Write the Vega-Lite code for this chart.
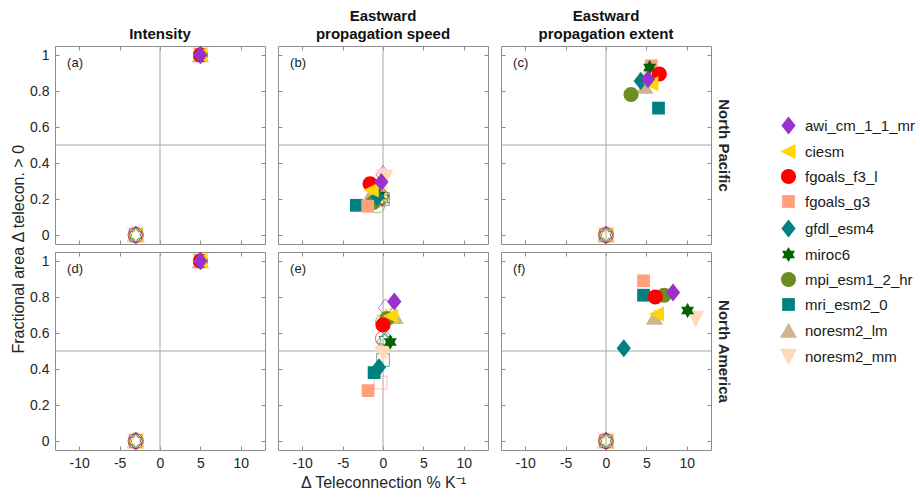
{
  "$schema": "https://vega.github.io/schema/vega-lite/v6.json",
  "padding": {"left": 11, "top": 8, "right": 5, "bottom": 5},
  "data": {"values": [
    {"panel":"a","kind":"h","model":"noresm2_mm","x":-3,"y":0},
    {"panel":"a","kind":"h","model":"noresm2_lm","x":-3,"y":0},
    {"panel":"a","kind":"h","model":"mri_esm2_0","x":-3,"y":0},
    {"panel":"a","kind":"h","model":"mpi_esm1_2_hr","x":-3,"y":0},
    {"panel":"a","kind":"h","model":"miroc6","x":-3,"y":0},
    {"panel":"a","kind":"h","model":"gfdl_esm4","x":-3,"y":0},
    {"panel":"a","kind":"h","model":"fgoals_g3","x":-3,"y":0},
    {"panel":"a","kind":"h","model":"fgoals_f3_l","x":-3,"y":0},
    {"panel":"a","kind":"h","model":"ciesm","x":-3,"y":0},
    {"panel":"a","kind":"h","model":"awi_cm_1_1_mr","x":-3,"y":0},
    {"panel":"a","kind":"f","model":"noresm2_mm","x":5,"y":1},
    {"panel":"a","kind":"f","model":"noresm2_lm","x":5,"y":1},
    {"panel":"a","kind":"f","model":"mri_esm2_0","x":5,"y":1},
    {"panel":"a","kind":"f","model":"mpi_esm1_2_hr","x":5,"y":1},
    {"panel":"a","kind":"f","model":"miroc6","x":5,"y":1},
    {"panel":"a","kind":"f","model":"gfdl_esm4","x":5,"y":1},
    {"panel":"a","kind":"f","model":"fgoals_g3","x":5,"y":1},
    {"panel":"a","kind":"f","model":"fgoals_f3_l","x":5,"y":1},
    {"panel":"a","kind":"f","model":"ciesm","x":5,"y":1},
    {"panel":"a","kind":"f","model":"awi_cm_1_1_mr","x":5,"y":1},

    {"panel":"b","kind":"h","model":"noresm2_mm","x":0.1,"y":0.31},
    {"panel":"b","kind":"h","model":"noresm2_lm","x":-0.2,"y":0.24},
    {"panel":"b","kind":"h","model":"mri_esm2_0","x":0.0,"y":0.2},
    {"panel":"b","kind":"h","model":"mpi_esm1_2_hr","x":-0.7,"y":0.165},
    {"panel":"b","kind":"h","model":"miroc6","x":-0.1,"y":0.2},
    {"panel":"b","kind":"h","model":"gfdl_esm4","x":-0.1,"y":0.22},
    {"panel":"b","kind":"h","model":"fgoals_g3","x":-0.5,"y":0.19},
    {"panel":"b","kind":"h","model":"fgoals_f3_l","x":-0.3,"y":0.21},
    {"panel":"b","kind":"h","model":"ciesm","x":-0.4,"y":0.23},
    {"panel":"b","kind":"h","model":"awi_cm_1_1_mr","x":0.0,"y":0.335},
    {"panel":"b","kind":"f","model":"noresm2_mm","x":0.2,"y":0.32},
    {"panel":"b","kind":"f","model":"noresm2_lm","x":-1.7,"y":0.21},
    {"panel":"b","kind":"f","model":"mri_esm2_0","x":-3.3,"y":0.165},
    {"panel":"b","kind":"f","model":"mpi_esm1_2_hr","x":-1.2,"y":0.18},
    {"panel":"b","kind":"f","model":"miroc6","x":-0.5,"y":0.22},
    {"panel":"b","kind":"f","model":"gfdl_esm4","x":-0.7,"y":0.21},
    {"panel":"b","kind":"f","model":"fgoals_g3","x":-1.9,"y":0.16},
    {"panel":"b","kind":"f","model":"fgoals_f3_l","x":-1.6,"y":0.285},
    {"panel":"b","kind":"f","model":"ciesm","x":-1.4,"y":0.25},
    {"panel":"b","kind":"f","model":"awi_cm_1_1_mr","x":-0.2,"y":0.295},

    {"panel":"c","kind":"h","model":"noresm2_mm","x":0,"y":0},
    {"panel":"c","kind":"h","model":"noresm2_lm","x":0,"y":0},
    {"panel":"c","kind":"h","model":"mri_esm2_0","x":0,"y":0},
    {"panel":"c","kind":"h","model":"mpi_esm1_2_hr","x":0,"y":0},
    {"panel":"c","kind":"h","model":"miroc6","x":0,"y":0},
    {"panel":"c","kind":"h","model":"gfdl_esm4","x":0,"y":0},
    {"panel":"c","kind":"h","model":"fgoals_g3","x":0,"y":0},
    {"panel":"c","kind":"h","model":"fgoals_f3_l","x":0,"y":0},
    {"panel":"c","kind":"h","model":"ciesm","x":0,"y":0},
    {"panel":"c","kind":"h","model":"awi_cm_1_1_mr","x":0,"y":0},
    {"panel":"c","kind":"f","model":"noresm2_mm","x":5.0,"y":0.86},
    {"panel":"c","kind":"f","model":"noresm2_lm","x":4.8,"y":0.825},
    {"panel":"c","kind":"f","model":"mri_esm2_0","x":6.5,"y":0.705},
    {"panel":"c","kind":"f","model":"mpi_esm1_2_hr","x":3.1,"y":0.78},
    {"panel":"c","kind":"f","model":"fgoals_g3","x":5.6,"y":0.94},
    {"panel":"c","kind":"f","model":"miroc6","x":5.4,"y":0.93},
    {"panel":"c","kind":"f","model":"gfdl_esm4","x":4.3,"y":0.855},
    {"panel":"c","kind":"f","model":"fgoals_f3_l","x":6.6,"y":0.895},
    {"panel":"c","kind":"f","model":"ciesm","x":5.6,"y":0.84},
    {"panel":"c","kind":"f","model":"awi_cm_1_1_mr","x":5.2,"y":0.865},

    {"panel":"d","kind":"h","model":"noresm2_mm","x":-3,"y":0},
    {"panel":"d","kind":"h","model":"noresm2_lm","x":-3,"y":0},
    {"panel":"d","kind":"h","model":"mri_esm2_0","x":-3,"y":0},
    {"panel":"d","kind":"h","model":"mpi_esm1_2_hr","x":-3,"y":0},
    {"panel":"d","kind":"h","model":"miroc6","x":-3,"y":0},
    {"panel":"d","kind":"h","model":"gfdl_esm4","x":-3,"y":0},
    {"panel":"d","kind":"h","model":"fgoals_g3","x":-3,"y":0},
    {"panel":"d","kind":"h","model":"fgoals_f3_l","x":-3,"y":0},
    {"panel":"d","kind":"h","model":"ciesm","x":-3,"y":0},
    {"panel":"d","kind":"h","model":"awi_cm_1_1_mr","x":-3,"y":0},
    {"panel":"d","kind":"f","model":"noresm2_mm","x":5,"y":1},
    {"panel":"d","kind":"f","model":"noresm2_lm","x":5,"y":1},
    {"panel":"d","kind":"f","model":"mri_esm2_0","x":5,"y":1},
    {"panel":"d","kind":"f","model":"mpi_esm1_2_hr","x":5,"y":1},
    {"panel":"d","kind":"f","model":"miroc6","x":5,"y":1},
    {"panel":"d","kind":"f","model":"gfdl_esm4","x":5,"y":1},
    {"panel":"d","kind":"f","model":"fgoals_g3","x":5,"y":1},
    {"panel":"d","kind":"f","model":"fgoals_f3_l","x":5,"y":1},
    {"panel":"d","kind":"f","model":"ciesm","x":5,"y":1},
    {"panel":"d","kind":"f","model":"awi_cm_1_1_mr","x":5,"y":1},

    {"panel":"e","kind":"h","model":"noresm2_mm","x":0.0,"y":0.47},
    {"panel":"e","kind":"h","model":"noresm2_lm","x":0.4,"y":0.69},
    {"panel":"e","kind":"h","model":"mri_esm2_0","x":0.0,"y":0.45},
    {"panel":"e","kind":"h","model":"mpi_esm1_2_hr","x":0.0,"y":0.66},
    {"panel":"e","kind":"h","model":"miroc6","x":0.3,"y":0.56},
    {"panel":"e","kind":"h","model":"gfdl_esm4","x":0.1,"y":0.55},
    {"panel":"e","kind":"h","model":"fgoals_g3","x":-0.3,"y":0.325},
    {"panel":"e","kind":"h","model":"fgoals_f3_l","x":0.0,"y":0.57},
    {"panel":"e","kind":"h","model":"ciesm","x":0.2,"y":0.7},
    {"panel":"e","kind":"h","model":"awi_cm_1_1_mr","x":0.3,"y":0.74},
    {"panel":"e","kind":"f","model":"noresm2_mm","x":0.0,"y":0.487},
    {"panel":"e","kind":"f","model":"noresm2_lm","x":1.5,"y":0.69},
    {"panel":"e","kind":"f","model":"mri_esm2_0","x":-1.1,"y":0.38},
    {"panel":"e","kind":"f","model":"mpi_esm1_2_hr","x":0.5,"y":0.68},
    {"panel":"e","kind":"f","model":"miroc6","x":0.9,"y":0.55},
    {"panel":"e","kind":"f","model":"gfdl_esm4","x":-0.5,"y":0.41},
    {"panel":"e","kind":"f","model":"fgoals_g3","x":-1.85,"y":0.28},
    {"panel":"e","kind":"f","model":"fgoals_f3_l","x":0.0,"y":0.645},
    {"panel":"e","kind":"f","model":"ciesm","x":1.0,"y":0.695},
    {"panel":"e","kind":"f","model":"awi_cm_1_1_mr","x":1.4,"y":0.775},

    {"panel":"f","kind":"h","model":"noresm2_mm","x":0,"y":0},
    {"panel":"f","kind":"h","model":"noresm2_lm","x":0,"y":0},
    {"panel":"f","kind":"h","model":"mri_esm2_0","x":0,"y":0},
    {"panel":"f","kind":"h","model":"mpi_esm1_2_hr","x":0,"y":0},
    {"panel":"f","kind":"h","model":"miroc6","x":0,"y":0},
    {"panel":"f","kind":"h","model":"gfdl_esm4","x":0,"y":0},
    {"panel":"f","kind":"h","model":"fgoals_g3","x":0,"y":0},
    {"panel":"f","kind":"h","model":"fgoals_f3_l","x":0,"y":0},
    {"panel":"f","kind":"h","model":"ciesm","x":0,"y":0},
    {"panel":"f","kind":"h","model":"awi_cm_1_1_mr","x":0,"y":0},
    {"panel":"f","kind":"f","model":"noresm2_mm","x":11.1,"y":0.68},
    {"panel":"f","kind":"f","model":"noresm2_lm","x":6.0,"y":0.685},
    {"panel":"f","kind":"f","model":"mri_esm2_0","x":4.65,"y":0.81},
    {"panel":"f","kind":"f","model":"mpi_esm1_2_hr","x":7.2,"y":0.81},
    {"panel":"f","kind":"f","model":"miroc6","x":10.1,"y":0.725},
    {"panel":"f","kind":"f","model":"gfdl_esm4","x":2.2,"y":0.515},
    {"panel":"f","kind":"f","model":"fgoals_g3","x":4.65,"y":0.89},
    {"panel":"f","kind":"f","model":"fgoals_f3_l","x":6.1,"y":0.8},
    {"panel":"f","kind":"f","model":"ciesm","x":6.3,"y":0.705},
    {"panel":"f","kind":"f","model":"awi_cm_1_1_mr","x":8.3,"y":0.825}
  ]},
  "title": {"text": "Fractional area Δ telecon. > 0", "orient": "left", "anchor": "middle", "fontSize": 16, "fontWeight": "normal", "color": "#262626", "offset": 2},
  "spacing": 4,
  "vconcat": [
    {"spacing": 11, "hconcat": [
      {"width": 210, "height": 198, "title": "Intensity",
       "resolve": {"axis": {"x": "independent", "y": "independent"}},
       "layer": [
        {"data": {"values": [{}]}, "mark": {"type": "rule", "color": "#a6a6a6", "strokeWidth": 1},
         "encoding": {"x": {"datum": 0, "type": "quantitative", "scale": {"domain": [-13, 13], "nice": false, "zero": false}, "axis": {"orient": "top", "labels": false, "values": [-10,-5,0,5,10], "title": null}}}},
        {"data": {"values": [{}]}, "mark": {"type": "rule", "color": "#a6a6a6", "strokeWidth": 1},
         "encoding": {"y": {"datum": 0.5, "type": "quantitative", "scale": {"domain": [-0.05, 1.05], "nice": false, "zero": false}, "axis": {"orient": "right", "labels": false, "values": [0,0.2,0.4,0.6,0.8,1], "title": null}}}},
        {"transform": [{"filter": "datum.panel == 'a' && datum.kind == 'f'"}],
         "mark": {"type": "point", "filled": true, "size": 225, "opacity": 1},
         "encoding": {"x": {"field": "x", "type": "quantitative", "axis": {"orient": "bottom", "labels": false, "values": [-10,-5,0,5,10], "title": null}}, "y": {"field": "y", "type": "quantitative", "axis": {"orient": "left", "values": [0,0.2,0.4,0.6,0.8,1], "format": ".1~f", "title": null}}, "color": {"field": "model", "type": "nominal", "title": null}, "shape": {"field": "model", "type": "nominal", "title": null}}},
        {"transform": [{"filter": "datum.panel == 'a' && datum.kind == 'h'"}],
         "mark": {"type": "point", "filled": false, "size": 225, "strokeWidth": 0.8, "opacity": 0.8},
         "encoding": {"x": {"field": "x", "type": "quantitative", "axis": null}, "y": {"field": "y", "type": "quantitative", "axis": null}, "color": {"field": "model", "type": "nominal", "title": null}, "shape": {"field": "model", "type": "nominal", "title": null}}},
        {"data": {"values": [{}]}, "mark": {"type": "text", "text": "(a)", "align": "left", "baseline": "middle", "fontSize": 13, "color": "#1a1a1a"},
         "encoding": {"x": {"datum": -11.5, "type": "quantitative", "axis": null}, "y": {"datum": 0.955, "type": "quantitative", "axis": null}}}
       ]},
      {"width": 210, "height": 198, "title": {"text": ["Eastward", "propagation speed"]},
       "resolve": {"axis": {"x": "independent", "y": "independent"}},
       "layer": [
        {"data": {"values": [{}]}, "mark": {"type": "rule", "color": "#a6a6a6", "strokeWidth": 1},
         "encoding": {"x": {"datum": 0, "type": "quantitative", "scale": {"domain": [-13, 13], "nice": false, "zero": false}, "axis": {"orient": "top", "labels": false, "values": [-10,-5,0,5,10], "title": null}}}},
        {"data": {"values": [{}]}, "mark": {"type": "rule", "color": "#a6a6a6", "strokeWidth": 1},
         "encoding": {"y": {"datum": 0.5, "type": "quantitative", "scale": {"domain": [-0.05, 1.05], "nice": false, "zero": false}, "axis": {"orient": "right", "labels": false, "values": [0,0.2,0.4,0.6,0.8,1], "title": null}}}},
        {"transform": [{"filter": "datum.panel == 'b' && datum.kind == 'h'"}],
         "mark": {"type": "point", "filled": false, "size": 225, "strokeWidth": 0.8, "opacity": 0.8},
         "encoding": {"x": {"field": "x", "type": "quantitative", "axis": null}, "y": {"field": "y", "type": "quantitative", "axis": null}, "color": {"field": "model", "type": "nominal", "title": null}, "shape": {"field": "model", "type": "nominal", "title": null}}},
        {"transform": [{"filter": "datum.panel == 'b' && datum.kind == 'f'"}],
         "mark": {"type": "point", "filled": true, "size": 225, "opacity": 1},
         "encoding": {"x": {"field": "x", "type": "quantitative", "axis": {"orient": "bottom", "labels": false, "values": [-10,-5,0,5,10], "title": null}}, "y": {"field": "y", "type": "quantitative", "axis": {"orient": "left", "labels": false, "values": [0,0.2,0.4,0.6,0.8,1], "title": null}}, "color": {"field": "model", "type": "nominal", "title": null}, "shape": {"field": "model", "type": "nominal", "title": null}}},
        {"data": {"values": [{}]}, "mark": {"type": "text", "text": "(b)", "align": "left", "baseline": "middle", "fontSize": 13, "color": "#1a1a1a"},
         "encoding": {"x": {"datum": -11.5, "type": "quantitative", "axis": null}, "y": {"datum": 0.955, "type": "quantitative", "axis": null}}}
       ]},
      {"width": 210, "height": 198, "title": {"text": ["Eastward", "propagation extent"]},
       "resolve": {"axis": {"x": "independent", "y": "independent"}},
       "layer": [
        {"data": {"values": [{}]}, "mark": {"type": "rule", "color": "#a6a6a6", "strokeWidth": 1},
         "encoding": {"x": {"datum": 0, "type": "quantitative", "scale": {"domain": [-13, 13], "nice": false, "zero": false}, "axis": {"orient": "top", "labels": false, "values": [-10,-5,0,5,10], "title": null}}}},
        {"data": {"values": [{}]}, "mark": {"type": "rule", "color": "#a6a6a6", "strokeWidth": 1},
         "encoding": {"y": {"datum": 0.5, "type": "quantitative", "scale": {"domain": [-0.05, 1.05], "nice": false, "zero": false}, "axis": {"orient": "right", "labels": false, "values": [0,0.2,0.4,0.6,0.8,1], "title": "North Pacific", "titleFontWeight": "bold", "titleFontSize": 15, "titleColor": "#262626", "titleAngle": 90, "titlePadding": 4}}}},
        {"transform": [{"filter": "datum.panel == 'c' && datum.kind == 'h'"}],
         "mark": {"type": "point", "filled": false, "size": 225, "strokeWidth": 0.8, "opacity": 0.8},
         "encoding": {"x": {"field": "x", "type": "quantitative", "axis": null}, "y": {"field": "y", "type": "quantitative", "axis": null}, "color": {"field": "model", "type": "nominal", "title": null}, "shape": {"field": "model", "type": "nominal", "title": null}}},
        {"transform": [{"filter": "datum.panel == 'c' && datum.kind == 'f'"}],
         "mark": {"type": "point", "filled": true, "size": 225, "opacity": 1},
         "encoding": {"x": {"field": "x", "type": "quantitative", "axis": {"orient": "bottom", "labels": false, "values": [-10,-5,0,5,10], "title": null}}, "y": {"field": "y", "type": "quantitative", "axis": {"orient": "left", "labels": false, "values": [0,0.2,0.4,0.6,0.8,1], "title": null}}, "color": {"field": "model", "type": "nominal", "title": null}, "shape": {"field": "model", "type": "nominal", "title": null}}},
        {"data": {"values": [{}]}, "mark": {"type": "text", "text": "(c)", "align": "left", "baseline": "middle", "fontSize": 13, "color": "#1a1a1a"},
         "encoding": {"x": {"datum": -11.5, "type": "quantitative", "axis": null}, "y": {"datum": 0.955, "type": "quantitative", "axis": null}}}
       ]}
    ]},
    {"spacing": 11, "hconcat": [
      {"width": 210, "height": 198,
       "resolve": {"axis": {"x": "independent", "y": "independent"}},
       "layer": [
        {"data": {"values": [{}]}, "mark": {"type": "rule", "color": "#a6a6a6", "strokeWidth": 1},
         "encoding": {"x": {"datum": 0, "type": "quantitative", "scale": {"domain": [-13, 13], "nice": false, "zero": false}, "axis": {"orient": "top", "labels": false, "values": [-10,-5,0,5,10], "title": null}}}},
        {"data": {"values": [{}]}, "mark": {"type": "rule", "color": "#a6a6a6", "strokeWidth": 1},
         "encoding": {"y": {"datum": 0.5, "type": "quantitative", "scale": {"domain": [-0.05, 1.05], "nice": false, "zero": false}, "axis": {"orient": "right", "labels": false, "values": [0,0.2,0.4,0.6,0.8,1], "title": null}}}},
        {"transform": [{"filter": "datum.panel == 'd' && datum.kind == 'h'"}],
         "mark": {"type": "point", "filled": false, "size": 225, "strokeWidth": 0.8, "opacity": 0.8},
         "encoding": {"x": {"field": "x", "type": "quantitative", "axis": null}, "y": {"field": "y", "type": "quantitative", "axis": null}, "color": {"field": "model", "type": "nominal", "title": null}, "shape": {"field": "model", "type": "nominal", "title": null}}},
        {"transform": [{"filter": "datum.panel == 'd' && datum.kind == 'f'"}],
         "mark": {"type": "point", "filled": true, "size": 225, "opacity": 1},
         "encoding": {"x": {"field": "x", "type": "quantitative", "axis": {"orient": "bottom", "values": [-10,-5,0,5,10], "labelExpr": "'' + datum.value", "title": null}}, "y": {"field": "y", "type": "quantitative", "axis": {"orient": "left", "values": [0,0.2,0.4,0.6,0.8,1], "format": ".1~f", "title": null}}, "color": {"field": "model", "type": "nominal", "title": null}, "shape": {"field": "model", "type": "nominal", "title": null}}},
        {"data": {"values": [{}]}, "mark": {"type": "text", "text": "(d)", "align": "left", "baseline": "middle", "fontSize": 13, "color": "#1a1a1a"},
         "encoding": {"x": {"datum": -11.5, "type": "quantitative", "axis": null}, "y": {"datum": 0.955, "type": "quantitative", "axis": null}}}
       ]},
      {"width": 210, "height": 198,
       "resolve": {"axis": {"x": "independent", "y": "independent"}},
       "layer": [
        {"data": {"values": [{}]}, "mark": {"type": "rule", "color": "#a6a6a6", "strokeWidth": 1},
         "encoding": {"x": {"datum": 0, "type": "quantitative", "scale": {"domain": [-13, 13], "nice": false, "zero": false}, "axis": {"orient": "top", "labels": false, "values": [-10,-5,0,5,10], "title": null}}}},
        {"data": {"values": [{}]}, "mark": {"type": "rule", "color": "#a6a6a6", "strokeWidth": 1},
         "encoding": {"y": {"datum": 0.5, "type": "quantitative", "scale": {"domain": [-0.05, 1.05], "nice": false, "zero": false}, "axis": {"orient": "right", "labels": false, "values": [0,0.2,0.4,0.6,0.8,1], "title": null}}}},
        {"transform": [{"filter": "datum.panel == 'e' && datum.kind == 'h'"}],
         "mark": {"type": "point", "filled": false, "size": 225, "strokeWidth": 0.8, "opacity": 0.8},
         "encoding": {"x": {"field": "x", "type": "quantitative", "axis": null}, "y": {"field": "y", "type": "quantitative", "axis": null}, "color": {"field": "model", "type": "nominal", "title": null}, "shape": {"field": "model", "type": "nominal", "title": null}}},
        {"transform": [{"filter": "datum.panel == 'e' && datum.kind == 'f'"}],
         "mark": {"type": "point", "filled": true, "size": 225, "opacity": 1},
         "encoding": {"x": {"field": "x", "type": "quantitative", "axis": {"orient": "bottom", "values": [-10,-5,0,5,10], "labelExpr": "'' + datum.value", "title": "Δ Teleconnection % K⁻¹"}}, "y": {"field": "y", "type": "quantitative", "axis": {"orient": "left", "labels": false, "values": [0,0.2,0.4,0.6,0.8,1], "title": null}}, "color": {"field": "model", "type": "nominal", "title": null}, "shape": {"field": "model", "type": "nominal", "title": null}}},
        {"data": {"values": [{}]}, "mark": {"type": "text", "text": "(e)", "align": "left", "baseline": "middle", "fontSize": 13, "color": "#1a1a1a"},
         "encoding": {"x": {"datum": -11.5, "type": "quantitative", "axis": null}, "y": {"datum": 0.955, "type": "quantitative", "axis": null}}}
       ]},
      {"width": 210, "height": 198,
       "resolve": {"axis": {"x": "independent", "y": "independent"}},
       "layer": [
        {"data": {"values": [{}]}, "mark": {"type": "rule", "color": "#a6a6a6", "strokeWidth": 1},
         "encoding": {"x": {"datum": 0, "type": "quantitative", "scale": {"domain": [-13, 13], "nice": false, "zero": false}, "axis": {"orient": "top", "labels": false, "values": [-10,-5,0,5,10], "title": null}}}},
        {"data": {"values": [{}]}, "mark": {"type": "rule", "color": "#a6a6a6", "strokeWidth": 1},
         "encoding": {"y": {"datum": 0.5, "type": "quantitative", "scale": {"domain": [-0.05, 1.05], "nice": false, "zero": false}, "axis": {"orient": "right", "labels": false, "values": [0,0.2,0.4,0.6,0.8,1], "title": "North America", "titleFontWeight": "bold", "titleFontSize": 15, "titleColor": "#262626", "titleAngle": 90, "titlePadding": 4}}}},
        {"transform": [{"filter": "datum.panel == 'f' && datum.kind == 'h'"}],
         "mark": {"type": "point", "filled": false, "size": 225, "strokeWidth": 0.8, "opacity": 0.8},
         "encoding": {"x": {"field": "x", "type": "quantitative", "axis": null}, "y": {"field": "y", "type": "quantitative", "axis": null}, "color": {"field": "model", "type": "nominal", "title": null}, "shape": {"field": "model", "type": "nominal", "title": null}}},
        {"transform": [{"filter": "datum.panel == 'f' && datum.kind == 'f'"}],
         "mark": {"type": "point", "filled": true, "size": 225, "opacity": 1},
         "encoding": {"x": {"field": "x", "type": "quantitative", "axis": {"orient": "bottom", "values": [-10,-5,0,5,10], "labelExpr": "'' + datum.value", "title": null}}, "y": {"field": "y", "type": "quantitative", "axis": {"orient": "left", "labels": false, "values": [0,0.2,0.4,0.6,0.8,1], "title": null}}, "color": {"field": "model", "type": "nominal", "title": null}, "shape": {"field": "model", "type": "nominal", "title": null}}},
        {"data": {"values": [{}]}, "mark": {"type": "text", "text": "(f)", "align": "left", "baseline": "middle", "fontSize": 13, "color": "#1a1a1a"},
         "encoding": {"x": {"datum": -11.5, "type": "quantitative", "axis": null}, "y": {"datum": 0.955, "type": "quantitative", "axis": null}}}
       ]}
    ]}
  ],
  "config": {
    "font": "Liberation Sans",
    "view": {"stroke": "#8c8c8c", "strokeWidth": 1},
    "axis": {"domain": false, "grid": false, "tickColor": "#8c8c8c", "tickSize": -4, "labelFontSize": 14, "labelColor": "#262626", "labelPadding": 10, "titleFontSize": 16, "titleFontWeight": "normal", "titleColor": "#262626"},
    "title": {"fontSize": 15, "fontWeight": "bold", "color": "#111111", "lineHeight": 18, "offset": 4},
    "range": {
      "category": ["#9932CC", "#FFD700", "#FF0000", "#FFA07A", "#008080", "#006400", "#6B8E23", "#008080", "#D2B48C", "#FFDAB9"],
      "symbol": [
        "M0,-1.2L0.95,0L0,1.2L-0.95,0Z",
        "M-1.1,0L0.95,-1L0.95,1Z",
        "M1,0A1,1,0,1,1,-1,0A1,1,0,1,1,1,0Z",
        "M-0.85,-0.85L0.85,-0.85L0.85,0.85L-0.85,0.85Z",
        "M0,-1.2L0.95,0L0,1.2L-0.95,0Z",
        "M0,-1L0.289,-0.5L0.866,-0.5L0.577,0L0.866,0.5L0.289,0.5L0,1L-0.289,0.5L-0.866,0.5L-0.577,0L-0.866,-0.5L-0.289,-0.5Z",
        "M1,0A1,1,0,1,1,-1,0A1,1,0,1,1,1,0Z",
        "M-0.85,-0.85L0.85,-0.85L0.85,0.85L-0.85,0.85Z",
        "M0,-1.05L1.15,0.95L-1.15,0.95Z",
        "M0,1.15L1.15,-1.05L-1.15,-1.05Z"
      ]
    },
    "legend": {"orient": "none", "legendX": 726, "legendY": 72, "symbolSize": 225, "labelFontSize": 15, "labelColor": "#1a1a1a", "rowPadding": 9, "labelOffset": 9, "symbolStrokeWidth": 0}
  }
}
